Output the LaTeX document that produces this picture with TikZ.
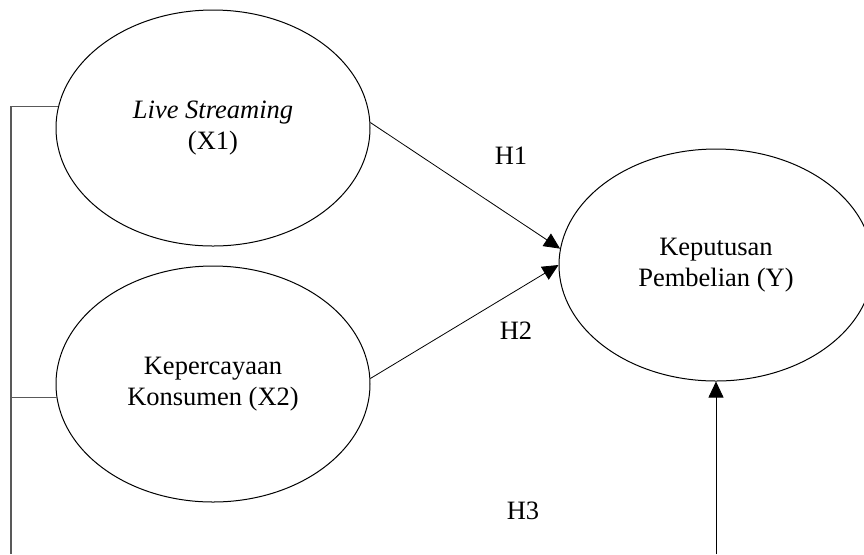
\documentclass[tikz,border=0pt]{standalone}
\usepackage{fontspec}
\setmainfont{Liberation Serif}
\usetikzlibrary{shapes.geometric,arrows.meta}
\begin{document}
\begin{tikzpicture}[x=0.5pt,y=-0.5pt,
    var node/.style={ellipse,draw,line width=0.5pt,minimum width=157pt,minimum height=118pt,inner sep=0pt,align=center,font=\fontsize{13.25}{15.5}\selectfont},
    hyp node/.style={font=\fontsize{13.25}{15.5}\selectfont},
    path line/.style={line width=0.4pt,-{Triangle[length=8pt,width=7.5pt]}},
    link line/.style={draw=black!65,line width=0.7pt}]
                \useasboundingbox (0,0) rectangle (864,554);
                \clip (0,0) rectangle (864,554);
                \node[var node] at (213,128) (x1) {\textit{Live Streaming}\\(X1)};
                \node[var node] at (213,384) (x2) {Kepercayaan\\Konsumen (X2)};
                \node[var node,minimum height=116pt] at (716,265) (y) {Keputusan\\Pembelian (Y)};
                \node[hyp node] at (511,156) (h1) {H1};
                \node[hyp node] at (516,331) (h2) {H2};
                \node[hyp node] at (523,511) (h3) {H3};
                \coordinate (lbot) at (11,554);
                \coordinate (ybot) at (716,554);

                \path[path line]
                    (x1.2) edge (y.174.5)
                    (x2.2) edge (y.180)
                    (ybot) edge (y.south)
                    ;
                \draw[link line] (x1.172) -| (lbot);
                \draw[link line] (x2.185) -- (x2.185 -| lbot);
            \end{tikzpicture}
\end{document}
